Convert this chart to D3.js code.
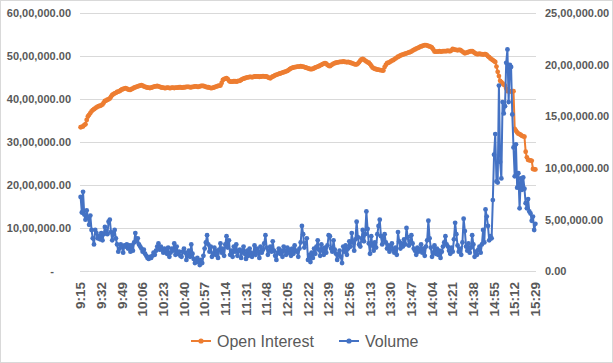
<!DOCTYPE html>
<html>
<head>
<meta charset="utf-8">
<script src="https://d3js.org/d3.v7.min.js"></script>
<style>
  html, body { margin: 0; padding: 0; background: #fff; }
  svg { display: block; }
</style>
</head>
<body>
<div id="chart"></div>
<script>
// Open interest (left axis) and volume (right axis), one value per minute, in lakh
const openInterest = [
  33.5, 33.6, 33.7, 34.0, 34.2, 35.2, 36.0, 36.4, 36.8, 37.2,
  37.5, 37.7, 37.9, 38.1, 38.3, 38.4, 38.5, 38.6, 38.8, 39.2,
  39.6, 39.7, 39.9, 40.0, 40.2, 40.6, 41.0, 41.2, 41.4, 41.5,
  41.7, 41.8, 41.9, 42.1, 42.3, 42.4, 42.5, 42.6, 42.5, 42.3,
  42.2, 42.2, 42.4, 42.5, 42.7, 42.8, 42.9, 43.0, 43.1, 43.2,
  43.3, 43.2, 43.0, 42.9, 42.8, 42.7, 42.7, 42.6, 42.7, 42.8,
  42.9, 43.0, 43.0, 43.1, 43.0, 42.9, 42.8, 42.7, 42.7, 42.6,
  42.6, 42.7, 42.7, 42.6, 42.6, 42.7, 42.7, 42.6, 42.7, 42.7,
  42.7, 42.8, 42.8, 42.7, 42.7, 42.8, 42.8, 42.9, 42.9, 42.9,
  42.8, 42.8, 42.9, 42.9, 43.0, 43.0, 42.9, 42.9, 43.0, 43.1,
  43.1, 43.1, 43.0, 42.9, 42.8, 42.8, 42.7, 42.6, 42.6, 42.7,
  42.8, 42.9, 43.0, 43.1, 43.2, 43.2, 43.8, 44.5, 44.7, 44.8,
  44.9, 44.7, 44.3, 44.1, 44.1, 44.1, 44.2, 44.2, 44.1, 44.2,
  44.3, 44.3, 44.5, 44.7, 44.8, 44.9, 45.0, 45.1, 45.1, 45.2,
  45.2, 45.1, 45.2, 45.3, 45.3, 45.3, 45.3, 45.2, 45.3, 45.3,
  45.4, 45.3, 45.3, 45.3, 45.1, 45.0, 44.9, 45.1, 45.3, 45.4,
  45.6, 45.7, 45.8, 45.9, 46.0, 46.1, 46.2, 46.3, 46.4, 46.5,
  46.6, 46.8, 47.0, 47.2, 47.3, 47.4, 47.5, 47.5, 47.6, 47.6,
  47.6, 47.7, 47.6, 47.6, 47.5, 47.4, 47.3, 47.2, 47.1, 47.0,
  47.0, 47.1, 47.2, 47.4, 47.5, 47.6, 47.7, 47.9, 48.0, 48.2,
  48.3, 48.4, 48.3, 48.0, 47.8, 47.7, 47.9, 48.1, 48.3, 48.4,
  48.5, 48.6, 48.6, 48.7, 48.7, 48.7, 48.8, 48.7, 48.7, 48.6,
  48.7, 48.6, 48.5, 48.4, 48.3, 48.2, 48.1, 48.1, 48.3, 48.6,
  49.0, 49.3, 49.4, 49.2, 49.0, 48.8, 48.6, 48.5, 48.2, 47.8,
  47.4, 47.2, 47.1, 47.0, 46.9, 46.9, 46.8, 46.8, 46.7, 46.7,
  47.5, 48.0, 48.4, 48.5, 48.6, 48.8, 49.0, 49.1, 49.3, 49.5,
  49.7, 49.9, 50.0, 50.2, 50.3, 50.4, 50.5, 50.6, 50.7, 50.8,
  50.9, 51.0, 51.1, 51.3, 51.5, 51.6, 51.8, 51.9, 52.0, 52.2,
  52.3, 52.4, 52.5, 52.6, 52.6, 52.5, 52.4, 52.3, 52.2, 52.0,
  51.6, 51.1, 51.1, 51.1, 51.1, 51.2, 51.1, 51.1, 51.2, 51.2,
  51.2, 51.2, 51.3, 51.2, 51.2, 51.4, 51.7, 51.6, 51.5, 51.5,
  51.4, 51.5, 51.5, 51.3, 51.1, 50.9, 50.7, 50.8, 50.9, 51.0,
  51.1, 51.2, 51.2, 51.0, 50.8, 50.6, 50.5, 50.5, 50.6, 50.5,
  50.5, 50.4, 50.5, 50.5, 50.3, 50.0, 49.8, 49.5, 49.3, 49.1,
  48.9, 48.7, 47.6, 46.4, 45.4, 44.3, 44.0, 43.7, 43.4, 43.2,
  42.5, 41.9, 41.9, 41.9, 41.8, 41.9, 41.9, 33.1, 32.7, 32.3,
  32.0, 31.9, 31.7, 31.5, 31.4, 31.3, 27.8, 26.5, 25.9, 25.8,
  25.8, 25.7, 23.8, 23.7, 23.7
];

const volume = [
  7.2, 5.7, 7.7, 5.5, 5.0, 5.9, 5.2, 4.5, 5.4, 4.0,
  3.2, 2.6, 4.0, 3.7, 3.2, 3.4, 3.1, 3.7, 3.0, 3.6,
  4.3, 3.9, 3.6, 4.8, 5.0, 3.8, 3.0, 3.6, 4.0, 3.2,
  2.6, 1.9, 2.2, 2.6, 2.4, 1.8, 2.5, 2.4, 2.6, 2.2,
  2.5, 1.9, 2.5, 2.0, 2.8, 3.7, 2.9, 3.2, 2.6, 2.4,
  2.2, 1.9, 2.1, 1.7, 1.5, 1.3, 1.2, 1.4, 1.3, 1.5,
  1.8, 1.6, 2.0, 2.4, 2.7, 2.1, 2.4, 2.1, 1.8, 2.2,
  2.0, 1.7, 2.3, 1.4, 1.8, 2.2, 2.0, 2.7, 1.6, 2.4,
  1.7, 1.9, 1.5, 1.4, 1.9, 2.2, 1.8, 1.1, 1.6, 2.0,
  1.4, 2.6, 1.7, 1.2, 0.8, 1.0, 1.3, 0.9, 0.6, 1.1,
  0.8, 1.5, 2.2, 2.8, 3.5, 2.6, 1.9, 2.4, 1.4, 1.7,
  2.3, 1.6, 2.0, 1.3, 2.1, 2.7, 1.8, 2.2, 1.5, 2.6,
  3.4, 2.3, 3.0, 1.6, 2.0, 1.4, 2.4, 1.9, 2.6, 1.5,
  2.0, 2.1, 1.3, 1.9, 2.4, 1.7, 1.2, 2.0, 1.5, 2.2,
  1.8, 1.4, 1.7, 2.5, 1.6, 2.2, 1.9, 1.3, 2.4, 1.8,
  2.1, 2.7, 3.5, 2.3, 1.6, 2.0, 2.4, 1.9, 2.9, 2.0,
  1.5, 1.1, 1.8, 2.2, 1.7, 2.0, 1.4, 2.4, 2.0, 1.6,
  2.3, 1.8, 2.1, 1.5, 2.2, 1.7, 2.5, 2.0, 1.9, 1.4,
  2.2, 2.8, 4.4, 3.6, 2.3, 2.7, 3.2, 1.1, 1.6, 0.9,
  1.8, 1.3, 2.2, 1.7, 2.4, 3.0, 2.1, 1.5, 2.6, 2.0,
  1.6, 2.3, 1.8, 2.5, 3.5, 3.4, 2.2, 1.9, 3.0, 2.1,
  1.7, 1.1, 1.6, 2.0, 1.4, 0.8, 2.4, 1.9, 2.5, 1.6,
  2.2, 2.9, 2.4, 3.7, 2.8, 2.0, 3.1, 4.8, 3.3, 2.6,
  2.4, 3.2, 4.0, 2.9, 3.6, 5.8, 4.1, 2.7, 1.7, 3.4,
  2.5, 2.0, 2.8, 2.3, 3.6, 4.4, 5.0, 3.4, 2.6, 3.1,
  3.6, 2.8, 2.2, 2.5, 1.9, 2.4, 2.7, 2.1, 1.8, 2.3,
  1.6, 3.8, 2.9, 2.2, 2.7, 2.4, 3.1, 2.6, 4.2, 3.3,
  2.5, 2.9, 3.5, 2.7, 2.2, 2.0, 1.6, 2.3, 1.9, 2.1,
  2.6, 1.8, 2.2, 1.5, 2.4, 3.0, 4.9, 3.2, 2.3, 1.4,
  1.8, 2.5, 1.7, 2.2, 1.6, 2.0, 1.3, 1.9, 2.4, 2.8,
  3.4, 2.6, 2.4, 2.0, 1.7, 2.3, 1.9, 3.1, 4.7, 3.6,
  2.5, 1.9, 2.2, 1.6, 2.8, 5.1, 3.9, 2.4, 2.0, 2.7,
  1.8, 2.3, 3.5, 2.6, 1.4, 1.9, 1.6, 2.1, 2.4, 1.8,
  2.6, 4.0, 2.8, 6.0, 5.3, 4.4, 3.0, 3.4, 3.2, 6.9,
  11.3, 13.3, 8.7, 8.6, 18.0, 10.6, 9.0, 16.4, 15.3, 16.0,
  20.2, 21.5, 16.4, 20.0, 19.8, 15.2, 12.0, 9.2, 12.3, 8.1,
  9.5, 6.1, 9.0, 7.9, 9.1, 8.0, 6.6, 6.1, 7.0, 5.8,
  5.6, 4.9, 5.3, 4.0, 4.6
];

const LAKH = 100000;

// minute categories 9:15 .. 15:29
const categories = d3.range(9 * 60 + 15, 15 * 60 + 30).map(m => `${Math.floor(m / 60)}:${String(m % 60).padStart(2, '0')}`);

const tickLabels = ['9:15', '9:32', '9:49', '10:06', '10:23', '10:40', '10:57', '11:14', '11:31', '11:48',
  '12:05', '12:22', '12:39', '12:56', '13:13', '13:30', '13:47', '14:04', '14:21', '14:38',
  '14:55', '15:12', '15:29'];

const leftTicks = [0, 1000000, 2000000, 3000000, 4000000, 5000000, 6000000];
const rightTicks = [0, 500000, 1000000, 1500000, 2000000, 2500000];

const series = [
  { name: 'Open Interest', color: '#ED7D31', values: openInterest, axis: 'left' },
  { name: 'Volume', color: '#4472C4', values: volume, axis: 'right' }
];

// Indian digit grouping: 60,00,000.00
function inr(v) {
  const s = String(Math.round(v));
  const last3 = s.slice(-3);
  let rest = s.slice(0, -3);
  if (rest) rest = rest.replace(/\B(?=(\d{2})+(?!\d))/g, ',');
  return (rest ? rest + ',' + last3 : last3) + '.00';
}

const width = 613, height = 363;
const plot = { left: 80, right: 536, top: 13.3, bottom: 271.3 };

const svg = d3.select('#chart').append('svg')
  .attr('width', width)
  .attr('height', height);

svg.append('rect')
  .attr('x', 0.5).attr('y', 0.5)
  .attr('width', width - 1).attr('height', height - 1)
  .attr('fill', '#fff')
  .attr('stroke', '#d9d9d9');

const x = d3.scalePoint()
  .domain(d3.range(categories.length))
  .range([plot.left, plot.right])
  .padding(0.5);

const yLeft = d3.scaleLinear().domain([0, 6000000]).range([plot.bottom, plot.top]);
const yRight = d3.scaleLinear().domain([0, 2500000]).range([plot.bottom, plot.top]);

// gridlines
svg.append('g')
  .selectAll('line')
  .data(leftTicks)
  .enter()
  .append('line')
  .attr('x1', plot.left).attr('x2', plot.right)
  .attr('y1', d => Math.round(yLeft(d)) + 0.5)
  .attr('y2', d => Math.round(yLeft(d)) + 0.5)
  .attr('stroke', '#d9d9d9')
  .attr('stroke-width', 1);

const labelFont = '"Liberation Sans", Arial, sans-serif';

// left axis labels
svg.append('g')
  .selectAll('text')
  .data(leftTicks)
  .enter()
  .append('text')
  .attr('x', d => d === 0 ? 52 : 71)
  .attr('y', d => yLeft(d))
  .attr('dy', '0.35em')
  .attr('text-anchor', d => d === 0 ? 'middle' : 'end')
  .attr('fill', '#595959')
  .attr('font-family', labelFont)
  .attr('font-weight', 'bold')
  .attr('font-size', '11px')
  .text(d => d === 0 ? '-' : inr(d));

// right axis labels
svg.append('g')
  .selectAll('text')
  .data(rightTicks)
  .enter()
  .append('text')
  .attr('x', 545)
  .attr('y', d => yRight(d))
  .attr('dy', '0.35em')
  .attr('fill', '#595959')
  .attr('font-family', labelFont)
  .attr('font-weight', 'bold')
  .attr('font-size', '11px')
  .text(d => inr(d));

// category labels, rotated
svg.append('g')
  .selectAll('text')
  .data(tickLabels)
  .enter()
  .append('text')
  .attr('transform', d => `translate(${x(categories.indexOf(d))},282) rotate(-90)`)
  .attr('dy', '0.35em')
  .attr('text-anchor', 'end')
  .attr('fill', '#595959')
  .attr('font-family', labelFont)
  .attr('font-weight', 'bold')
  .attr('font-size', '13.5px')
  .text(d => d);

// series
series.forEach(s => {
  const y = s.axis === 'left' ? yLeft : yRight;
  const line = d3.line()
    .x((d, i) => x(i))
    .y(d => y(d * LAKH));

  const g = svg.append('g');
  g.append('path')
    .datum(s.values)
    .attr('d', line)
    .attr('fill', 'none')
    .attr('stroke', s.color)
    .attr('stroke-width', 2)
    .attr('stroke-linejoin', 'round');

  g.selectAll('circle')
    .data(s.values)
    .enter()
    .append('circle')
    .attr('cx', (d, i) => x(i))
    .attr('cy', d => y(d * LAKH))
    .attr('r', 2.4)
    .attr('fill', s.color);
});

// legend
const legendX = [191, 339];
const legend = svg.append('g')
  .selectAll('g')
  .data(series)
  .enter()
  .append('g')
  .attr('transform', (d, i) => `translate(${legendX[i]},341)`);

legend.append('line')
  .attr('x1', 0).attr('x2', 20)
  .attr('stroke', d => d.color)
  .attr('stroke-width', 2);

legend.append('circle')
  .attr('cx', 10)
  .attr('r', 2.6)
  .attr('fill', d => d.color);

legend.append('text')
  .attr('x', 26)
  .attr('dy', '0.35em')
  .attr('fill', '#595959')
  .attr('font-family', labelFont)
  .attr('font-size', '16px')
  .text(d => d.name);
</script>
</body>
</html>
